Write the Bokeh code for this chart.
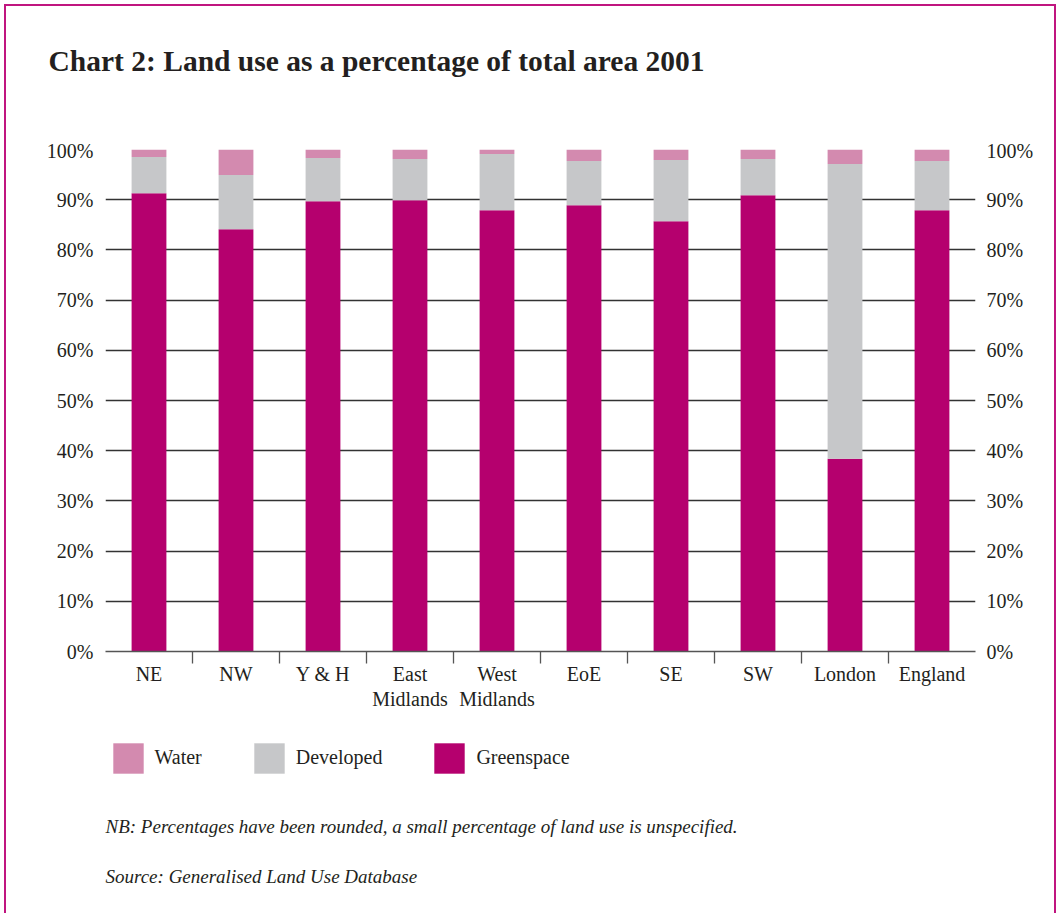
from bokeh.plotting import figure
from bokeh.layouts import column
from bokeh.models import (FactorRange, Range1d, LinearAxis, CategoricalAxis, FixedTicker,
                          PrintfTickFormatter, Grid, Legend, LegendItem, Label,
                          ColumnDataSource)
from bokeh.embed import file_html
from bokeh.resources import INLINE

regions = ["NE", "NW", "Y & H", "East\nMidlands", "West\nMidlands", "EoE", "SE", "SW", "London", "England"]
greenspace = [91.3, 84.1, 89.7, 89.9, 87.9, 88.9, 85.7, 90.9, 38.4, 87.9]
developed = [7.2, 10.8, 8.6, 8.2, 11.2, 8.8, 12.2, 7.2, 58.7, 9.8]
water = [1.5, 5.1, 1.7, 1.9, 0.9, 2.3, 2.1, 1.9, 2.9, 2.3]
y_ticks = [0, 10, 20, 30, 40, 50, 60, 70, 80, 90, 100]
series = ["Greenspace", "Developed", "Water"]
legend_order = ["Water", "Developed", "Greenspace"]

title_text = "Chart 2: Land use as a percentage of total area 2001"
note_text = "NB: Percentages have been rounded, a small percentage of land use is unspecified."
source_text = "Source: Generalised Land Use Database"

COLORS = {"Greenspace": "#b5006e", "Developed": "#c6c7c9", "Water": "#d38aaf"}
C_BORDER = "#c0157f"
C_TEXT = "#231f20"
FONT = "Liberation Serif"

W = 1048
H_TOP, H_MAIN, H_BOT = 133, 586, 188


def blank(height):
    f = figure(width=W, height=height, x_range=Range1d(0, 1), y_range=Range1d(0, 1),
               x_axis_location=None, y_axis_location=None, toolbar_location=None,
               output_backend="svg", min_border=0, min_border_left=0, min_border_right=0,
               min_border_top=0, min_border_bottom=0, outline_line_color=None,
               frame_align=False)
    f.grid.visible = False
    return f


# ---------- title ----------
top = blank(H_TOP)
top.add_layout(Label(x=42, y=79, x_units="screen", y_units="screen", text=title_text,
                     text_font=FONT, text_font_style="bold", text_font_size="29.5px",
                     text_color=C_TEXT, text_baseline="middle"))

# ---------- main chart ----------
src = ColumnDataSource(dict(region=regions, Greenspace=greenspace, Developed=developed, Water=water))

p = figure(width=W, height=H_MAIN, x_range=FactorRange(*regions), y_range=Range1d(0, 100),
           x_axis_location=None, y_axis_location=None, toolbar_location=None,
           output_backend="svg", min_border_left=99, min_border_right=79,
           min_border_top=10, min_border_bottom=74, outline_line_color=None,
           frame_align=False)
p.xgrid.visible = False
p.ygrid.visible = False

# boundary factors, one per category edge, centred on the edges via negative padding
bounds = [" " * (i + 1) for i in range(len(regions) + 1)]
p.extra_x_ranges = {"bounds": FactorRange(*bounds, range_padding=-0.5, range_padding_units="absolute")}

p.vbar_stack(series, x="region", width=0.4, color=[COLORS[s] for s in series],
             line_color=None, source=src)


def style_y(ax, standoff):
    ax.axis_line_color = None
    ax.major_tick_line_color = None
    ax.minor_tick_line_color = None
    ax.major_tick_out = 0
    ax.major_tick_in = 0
    ax.major_label_standoff = standoff
    ax.major_label_text_font = FONT
    ax.major_label_text_font_size = "20px"
    ax.major_label_text_color = C_TEXT


ly = LinearAxis(ticker=FixedTicker(ticks=y_ticks), formatter=PrintfTickFormatter(format="%d%%"))
style_y(ly, 12)
ry = LinearAxis(ticker=FixedTicker(ticks=y_ticks), formatter=PrintfTickFormatter(format="%d%%"))
style_y(ry, 11)
p.add_layout(ly, "left")
p.add_layout(ry, "right")

p.add_layout(Grid(dimension=1, ticker=ly.ticker, grid_line_color="#333333", grid_line_width=1.3))

bx = CategoricalAxis(x_range_name="bounds")
bx.axis_line_color = "#555555"
bx.axis_line_width = 1.3
bx.major_tick_line_color = "#555555"
bx.major_tick_line_width = 1.3
bx.major_tick_out = 12
bx.major_tick_in = 0
bx.minor_tick_line_color = None
bx.major_label_text_font_size = "0px"
bx.major_label_standoff = 0
p.add_layout(bx, "below")

cx = CategoricalAxis()
cx.axis_line_color = None
cx.major_tick_line_color = None
cx.major_tick_out = 0
cx.major_tick_in = 0
cx.major_label_standoff = -1
cx.major_label_text_font = FONT
cx.major_label_text_font_size = "20px"
cx.major_label_text_color = C_TEXT
cx.major_label_text_line_height = 1.15
p.add_layout(cx, "below")

# ---------- legend + notes ----------
bot = blank(H_BOT)
# legend swatches only: a zero-height helper bar per key so that the legend can draw its glyph
swatch_src = ColumnDataSource(dict(x=[0.5], top=[0.0]))
items = []
for s in legend_order:
    r = bot.vbar(x="x", top="top", bottom=0, width=0.0, fill_color=COLORS[s],
                 line_color=None, source=swatch_src)
    items.append(LegendItem(label=s, renderers=[r]))
legend = Legend(items=items, orientation="horizontal", location=(103, 136),
                glyph_width=38, glyph_height=38, label_standoff=8, spacing=48,
                padding=0, margin=0, border_line_color=None, background_fill_alpha=0,
                label_text_font=FONT, label_text_font_size="20px", label_text_color=C_TEXT)
bot.add_layout(legend, "center")
bot.add_layout(Label(x=99, y=87, x_units="screen", y_units="screen", text=note_text,
                     text_font=FONT, text_font_style="italic", text_font_size="19px",
                     text_color=C_TEXT, text_baseline="middle"))
bot.add_layout(Label(x=99, y=37, x_units="screen", y_units="screen", text=source_text,
                     text_font=FONT, text_font_style="italic", text_font_size="19px",
                     text_color=C_TEXT, text_baseline="middle"))

layout = column(top, p, bot, spacing=0,
                styles={"margin-left": "3.5px", "margin-top": "3.5px",
                        "border-left": f"2.6px solid {C_BORDER}",
                        "border-right": f"2.6px solid {C_BORDER}",
                        "border-top": f"2.6px solid {C_BORDER}"})

open("out.html", "w").write(file_html(layout, INLINE))
